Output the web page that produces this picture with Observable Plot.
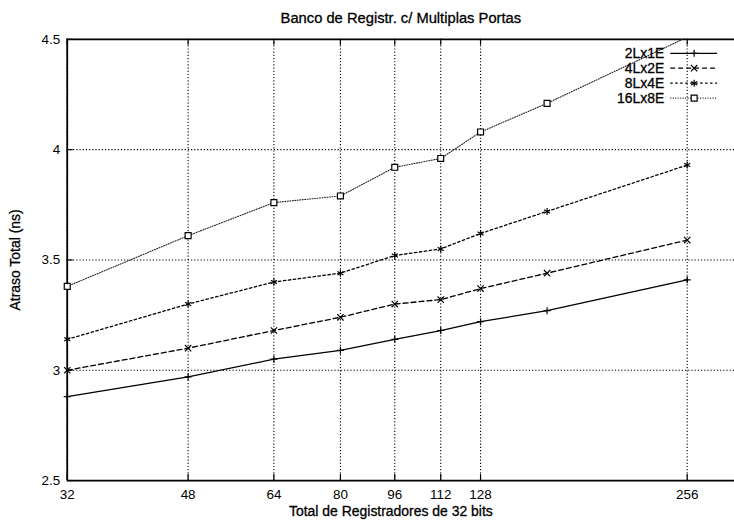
<!DOCTYPE html>
<html><head><meta charset="utf-8">
<script src="https://cdn.jsdelivr.net/npm/d3@7"></script>
<script src="https://cdn.jsdelivr.net/npm/@observablehq/plot@0.6"></script>
<style>
html,body{margin:0;padding:0;background:#fff;overflow:hidden;}
#chart{width:734px;height:526px;overflow:hidden;position:relative;}
</style></head><body><div id="chart"></div>
<script>
const titleText = "Banco de Registr. c/ Multiplas Portas";
const xLabel = "Total de Registradores de 32 bits";
const yLabel = "Atraso Total (ns)";
const sizes = [32, 48, 64, 80, 96, 112, 128, 160, 256];
const xTicks = [32, 48, 64, 80, 96, 112, 128, 256];
const yTicks = [2.5, 3, 3.5, 4, 4.5];
const seriesNames = ["2Lx1E", "4Lx2E", "8Lx4E", "16Lx8E"];
const v2Lx1E  = [2.88, 2.97, 3.05, 3.09, 3.14, 3.18, 3.22, 3.27, 3.41];
const v4Lx2E  = [3.00, 3.10, 3.18, 3.24, 3.30, 3.32, 3.37, 3.44, 3.59];
const v8Lx4E  = [3.14, 3.30, 3.40, 3.44, 3.52, 3.55, 3.62, 3.72, 3.93];
const v16Lx8E = [3.38, 3.61, 3.76, 3.79, 3.92, 3.96, 4.08, 4.21, 4.51];
const seriesValues = [v2Lx1E, v4Lx2E, v8Lx4E, v16Lx8E];

const styles = {
  "2Lx1E":  {dash: null,      symbol: "plus",     r: 2.4, stroke: "#000", sw: 1.3},
  "4Lx2E":  {dash: "5,3",     symbol: "times",    r: 3.0, stroke: "#000", sw: 1.3},
  "8Lx4E":  {dash: "2.5,2.5", symbol: "asterisk", r: 3.3, stroke: "#000", sw: 1.3},
  "16Lx8E": {dash: "1,1.5",   symbol: "square2",  r: 3.8, stroke: "#222", sw: 1.1}
};

const rows = seriesNames.map((name, k) => sizes.map((x, i) => ({name, x, y: seriesValues[k][i]})));
const Y0 = 2.5, Y1 = 4.5;
const font = "Liberation Sans, Arial, Helvetica, sans-serif";
const txt = {fill: "#000", stroke: "#000", strokeWidth: 0.3};

const marks = [
  Plot.gridX(xTicks, {stroke: "#000", strokeOpacity: 1, strokeWidth: 1.1, strokeDasharray: "1.2,2"}),
  Plot.gridY([3, 3.5, 4], {stroke: "#000", strokeOpacity: 1, strokeWidth: 1.1, strokeDasharray: "1.2,2"}),
  Plot.ruleX(xTicks, {x: d => d, y1: Y0, y2: Y0 + 0.027, strokeWidth: 1.2}),
  Plot.ruleX(xTicks, {x: d => d, y1: Y1, y2: Y1 - 0.027, strokeWidth: 1.2}),
  Plot.ruleY(yTicks, {y: d => d, x1: 32, x2: 32.65, strokeWidth: 1.2}),
  Plot.ruleY([Y0, Y1], {strokeWidth: 1.8}),
  Plot.ruleX([32], {strokeWidth: 1.8}),
];
seriesNames.forEach((name, k) => {
  const s = styles[name];
  marks.push(Plot.line(rows[k], {x: "x", y: "y", stroke: s.stroke, strokeWidth: s.sw, strokeDasharray: s.dash, clip: true}));
});
seriesNames.forEach((name, k) => {
  const s = styles[name];
  marks.push(Plot.dot(rows[k].filter(d => d.y <= Y1), {x: "x", y: "y", symbol: () => s.symbol, r: s.r, stroke: "#000", strokeWidth: 1.2, fill: s.symbol === "square2" ? "white" : "none"}));
});
marks.push(
  Plot.axisX(xTicks, {tickSize: 0, tickPadding: 9, fontSize: 13.5, label: null, ...txt}),
  Plot.axisY(yTicks, {tickSize: 0, tickPadding: 7, fontSize: 13.5, label: null, tickFormat: d => String(d), ...txt}),
  Plot.text([titleText], {text: d => d, frameAnchor: "top", lineAnchor: "middle", textAnchor: "middle", dy: -21, fontSize: 14.8, ...txt}),
  Plot.text([xLabel], {text: d => d, frameAnchor: "bottom", lineAnchor: "middle", textAnchor: "middle", dy: 31.5, dx: -10, fontSize: 14, ...txt}),
  Plot.text([yLabel], {text: d => d, frameAnchor: "left", lineAnchor: "middle", textAnchor: "middle", dx: -52, rotate: -90, fontSize: 14, ...txt})
);

const plot = Plot.plot({
  width: 737, height: 526,
  marginLeft: 67, marginRight: 0, marginTop: 39, marginBottom: 44,
  style: {fontFamily: font, fontSize: "14px", color: "#000", background: "#fff", overflow: "visible"},
  x: {type: "log", domain: [32, 300], axis: null},
  y: {domain: [Y0, Y1], axis: null},
  symbol: {type: "identity"},
  marks
});
document.getElementById("chart").appendChild(plot);

// legend (layout only)
const svg = d3.select(plot);
const lg = svg.append("g").attr("font-family", font).attr("font-size", 14);
const symMap = {plus: d3.symbolPlus, times: d3.symbolTimes, asterisk: d3.symbolAsterisk, square2: d3.symbolSquare2};
seriesNames.forEach((name, i) => {
  const s = styles[name];
  const y = 53.5 + i * 15;
  lg.append("text").attr("x", 667).attr("y", y).attr("dy", "0.35em").attr("text-anchor", "end")
    .attr("fill", "#000").attr("stroke", "#000").attr("stroke-width", 0.3).text(name);
  lg.append("line").attr("x1", 673).attr("x2", 720).attr("y1", y).attr("y2", y)
    .attr("stroke", s.stroke).attr("stroke-width", s.sw).attr("stroke-dasharray", s.dash);
  lg.append("path").attr("transform", `translate(697,${y})`)
    .attr("d", d3.symbol(symMap[s.symbol], Math.PI * s.r * s.r)())
    .attr("stroke", "#000").attr("stroke-width", 1.2).attr("fill", s.symbol === "square2" ? "white" : "none");
});
</script>
</body></html>
